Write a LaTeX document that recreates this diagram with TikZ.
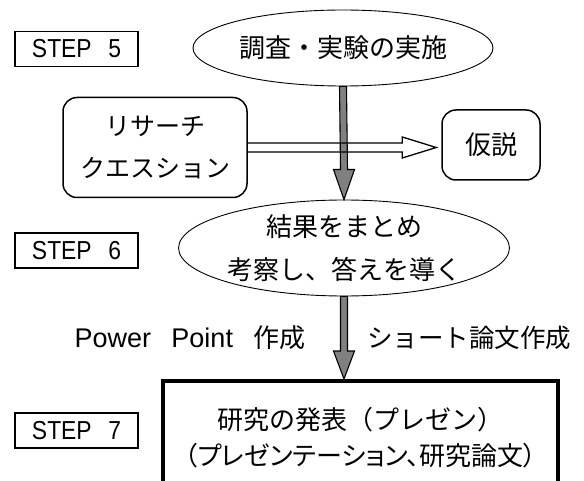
\documentclass[tikz,border=0pt]{standalone}
\usepackage{fontspec}
\setmainfont{Liberation Sans}
\newfontfamily\jp{Noto Sans CJK JP}
\newfontfamily\jpp[RawFeature=+palt]{Noto Sans CJK JP}
\newfontfamily\stepfont[FakeStretch=0.88,WordSpace=2.6]{Liberation Sans}
\newfontfamily\ppfont[WordSpace=2.7]{Liberation Sans}
\usetikzlibrary{shapes.geometric,calc}
\definecolor{arrowgray}{HTML}{808080}
\begin{document}
\begin{tikzpicture}[x=1pt,y=-1pt,
  stepbox/.style={draw,line width=1.5pt,minimum width=123pt,minimum height=35pt,inner sep=0pt,font=\stepfont\fontsize{26}{28}\selectfont},
  oval/.style={draw,line width=0.9pt,ellipse,inner sep=0pt,align=center},
  rbox/.style={draw,line width=1.5pt,rounded corners=14pt,inner sep=0pt,align=center},
  bigbox/.style={draw,line width=4pt,inner sep=0pt,align=center},
  lbl/.style={inner sep=0pt},
  grayarrow/.style={draw,line width=1.1pt,fill=arrowgray,line join=miter},
  openarrow/.style={draw,line width=1.3pt,line join=miter},
]
\useasboundingbox (0,0) rectangle (584,481);

% STEP labels
\node[stepbox] (s5) at (76.5,49) {STEP 5};
\node[stepbox] (s6) at (76.5,250.5) {STEP 6};
\node[stepbox] (s7) at (76.5,430.5) {STEP 7};

% main shapes
\node[oval,minimum width=300pt,minimum height=76pt,font=\jp\fontsize{26}{30}\selectfont] (e1) at (343,48) {調査・実験の実施};
\node[rbox,minimum width=184pt,minimum height=100pt,font=\jp\fontsize{25}{42}\selectfont] (rq) at (155,147.5) {リサーチ\\クエスション};
\node[rbox,minimum width=98pt,minimum height=70pt,font=\jp\fontsize{26}{30}\selectfont] (hyp) at (491,145) {仮説};
\node[oval,minimum width=318pt,minimum height=96pt,font=\jp\fontsize{26}{43}\selectfont] (e2) at (344,248) {結果をまとめ\\考察し、答えを導く};
\node[bigbox,minimum width=395pt,minimum height=113pt,font=\jp\fontsize{26}{36}\selectfont] (pres) at (360.5,437.5) {研究の発表（プレゼン）\\{\jpp（プレゼンテーション、研究論文）}};

% side labels
\node[lbl] (pp) at (190,338) {{\ppfont\fontsize{27}{30}\selectfont Power Point }{\jp\fontsize{26}{30}\selectfont 作成}};
\node[lbl,font=\jp\fontsize{25.5}{30}\selectfont] (sr) at (469,338) {ショート論文作成};

% gray block arrow 1
\draw[grayarrow] ($(e1.south)+(-3.5,0)$) -- ($(e2.north)+(-3.5,-30)$) -- ($(e2.north)+(-10.5,-30)$)
  -- (e2.north) -- ($(e2.north)+(10.5,-30)$) -- ($(e2.north)+(3.5,-30)$) -- ($(e1.south)+(3.5,0)$) -- cycle;
% gray block arrow 2
\coordinate (a2tip) at (e2.south |- pres.north);
\draw[grayarrow] ($(e2.south)+(-3.5,0)$) -- ($(a2tip)+(-3.5,-28)$) -- ($(a2tip)+(-10.5,-28)$)
  -- (a2tip) -- ($(a2tip)+(10.5,-28)$) -- ($(a2tip)+(3.5,-28)$) -- ($(e2.south)+(3.5,0)$) -- cycle;

% open double arrow
\coordinate (tipc) at (rq.east -| hyp.west);
\draw[openarrow] ($(rq.east)+(0,-4.5)$) -- ($(tipc)+(-39,-4.5)$) -- ($(tipc)+(-39,-10.5)$)
  -- ($(tipc)+(-5,0)$) -- ($(tipc)+(-39,10.5)$) -- ($(tipc)+(-39,4.5)$) -- ($(rq.east)+(0,4.5)$);
\end{tikzpicture}
\end{document}
